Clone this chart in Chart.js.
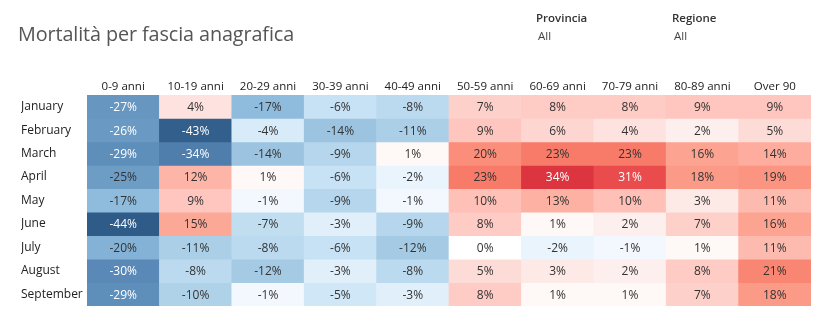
<!DOCTYPE html>
<html>
<head>
<meta charset="utf-8">
<script src="https://cdn.jsdelivr.net/npm/chart.js@4/dist/chart.umd.min.js"></script>
<style>
  html, body { margin:0; padding:0; background:#fff; }
  #wrap { position:relative; width:829px; height:331px; font-family:"Open Sans", "Noto Sans", sans-serif; }
  #title { position:absolute; left:18px; top:20px; font-size:19.8px; color:#555; letter-spacing:-0.1px; }
  .flt { position:absolute; font-size:11.5px; color:#333; }
  .flt b { font-weight:600; display:block; }
  .flt span { display:block; margin-top:3px; margin-left:2px; color:#444; }
  canvas { position:absolute; left:0; top:0; }
</style>
</head>
<body>
<div id="wrap">
  <canvas id="c" width="829" height="331"></canvas>
  <div id="title">Mortalità per fascia anagrafica</div>
  <div class="flt" style="left:536px; top:10px;"><b>Provincia</b><span>All</span></div>
  <div class="flt" style="left:672px; top:10px;"><b>Regione</b><span>All</span></div>
</div>
<script>
const months = ["January","February","March","April","May","June","July","August","September"];
const ageGroups = ["0-9 anni","10-19 anni","20-29 anni","30-39 anni","40-49 anni","50-59 anni","60-69 anni","70-79 anni","80-89 anni","Over 90"];
const january   = [-27,   4, -17,  -6,  -8,  7,  8,  8, 9,  9];
const february  = [-26, -43,  -4, -14, -11,  9,  6,  4, 2,  5];
const march     = [-29, -34, -14,  -9,   1, 20, 23, 23, 16, 14];
const april     = [-25,  12,   1,  -6,  -2, 23, 34, 31, 18, 19];
const may       = [-17,   9,  -1,  -9,  -1, 10, 13, 10, 3, 11];
const june      = [-44,  15,  -7,  -3,  -9,  8,  1,  2, 7, 16];
const july      = [-20, -11,  -8,  -6, -12,  0, -2, -1, 1, 11];
const august    = [-30,  -8, -12,  -3,  -8,  5,  3,  2, 8, 21];
const september = [-29, -10,  -1,  -5,  -3,  8,  1,  1, 7, 18];
const values = [january, february, march, april, may, june, july, august, september];

function hex(h){ return [parseInt(h.substr(1,2),16),parseInt(h.substr(3,2),16),parseInt(h.substr(5,2),16)]; }
const negStops = [[0,"#ffffff"],[1,"#f2f8fd"],[4,"#d8ebf9"],[6,"#c7e2f4"],[9,"#b5d6ec"],[12,"#a5cbe4"],[14,"#9cc4e0"],[17,"#8fbbdc"],[20,"#84b1d6"],[25,"#6d9cc5"],[27,"#6797c0"],[30,"#5a89b7"],[34,"#4f7dac"],[43,"#335f8c"],[44,"#2e5b88"]];
const posStops = [[0,"#ffffff"],[1,"#fef8f7"],[2,"#fdefed"],[4,"#fde2df"],[7,"#fdd0ca"],[9,"#fec6bf"],[12,"#fdb5a8"],[16,"#fca391"],[19,"#fb9582"],[21,"#f98672"],[23,"#f77b68"],[31,"#ea4b4c"],[34,"#dc3540"]];
function colorFor(v){
  const stops = v < 0 ? negStops : posStops;
  const a = Math.abs(v);
  for (let i=1;i<stops.length;i++){
    if (a <= stops[i][0]) {
      const [a0,c0] = stops[i-1], [a1,c1] = stops[i];
      const t = (a - a0) / (a1 - a0);
      const p = hex(c0), q = hex(c1);
      return "rgb(" + p.map((x,k)=>Math.round(x+(q[k]-x)*t)).join(",") + ")";
    }
  }
  return stops[stops.length-1][1];
}
function textColor(v){ return (v <= -26 || v >= 30) ? "#ffffff" : "#333333"; }

const datasets = values.map((row, r) => ({
  label: months[r],
  data: row.map(() => [r - 0.5, r + 0.5]),
  backgroundColor: row.map(colorFor),
  borderWidth: 0,
  borderSkipped: false,
  grouped: false,
  barPercentage: 1,
  categoryPercentage: 1
}));

const cellText = {
  id: "cellText",
  afterDatasetsDraw(chart) {
    const ctx = chart.ctx;
    ctx.save();
    ctx.font = '12px "Open Sans", "Noto Sans", sans-serif';
    ctx.textAlign = "center";
    ctx.textBaseline = "middle";
    chart.data.datasets.forEach((ds, r) => {
      const meta = chart.getDatasetMeta(r);
      meta.data.forEach((el, c) => {
        const v = values[r][c];
        ctx.fillStyle = textColor(v);
        ctx.fillText(v + "%", el.x, (el.y + el.base) / 2 + 1);
      });
    });
    ctx.restore();
  }
};

new Chart(document.getElementById("c"), {
  type: "bar",
  data: { labels: ageGroups, datasets },
  options: {
    responsive: false,
    animation: false,
    layout: { padding: { left: 21, top: 73, right: 18, bottom: 25 } },
    plugins: { legend: { display: false }, tooltip: { enabled: false } },
    scales: {
      x: {
        type: "category",
        position: "top",
        offset: true,
        grid: { display: false, drawTicks: false },
        border: { display: false },
        ticks: { color: "#222", font: { family: '"Open Sans", "Noto Sans", sans-serif', size: 11.5 }, padding: 1, maxRotation: 0, autoSkip: false },
        afterFit(s) { s.height = 22; }
      },
      y: {
        type: "linear",
        reverse: true,
        min: -0.5,
        max: 8.5,
        grid: { display: false, drawTicks: false },
        border: { display: false },
        afterBuildTicks(s) { s.ticks = months.map((m, i) => ({ value: i })); },
        ticks: {
          color: "#222",
          crossAlign: "far",
          font: { family: '"Open Sans", "Noto Sans", sans-serif', size: 12 },
          callback: (v) => months[v] ?? ""
        },
        afterFit(s) { s.width = 66; }
      }
    }
  },
  plugins: [cellText]
});
</script>
</body>
</html>
